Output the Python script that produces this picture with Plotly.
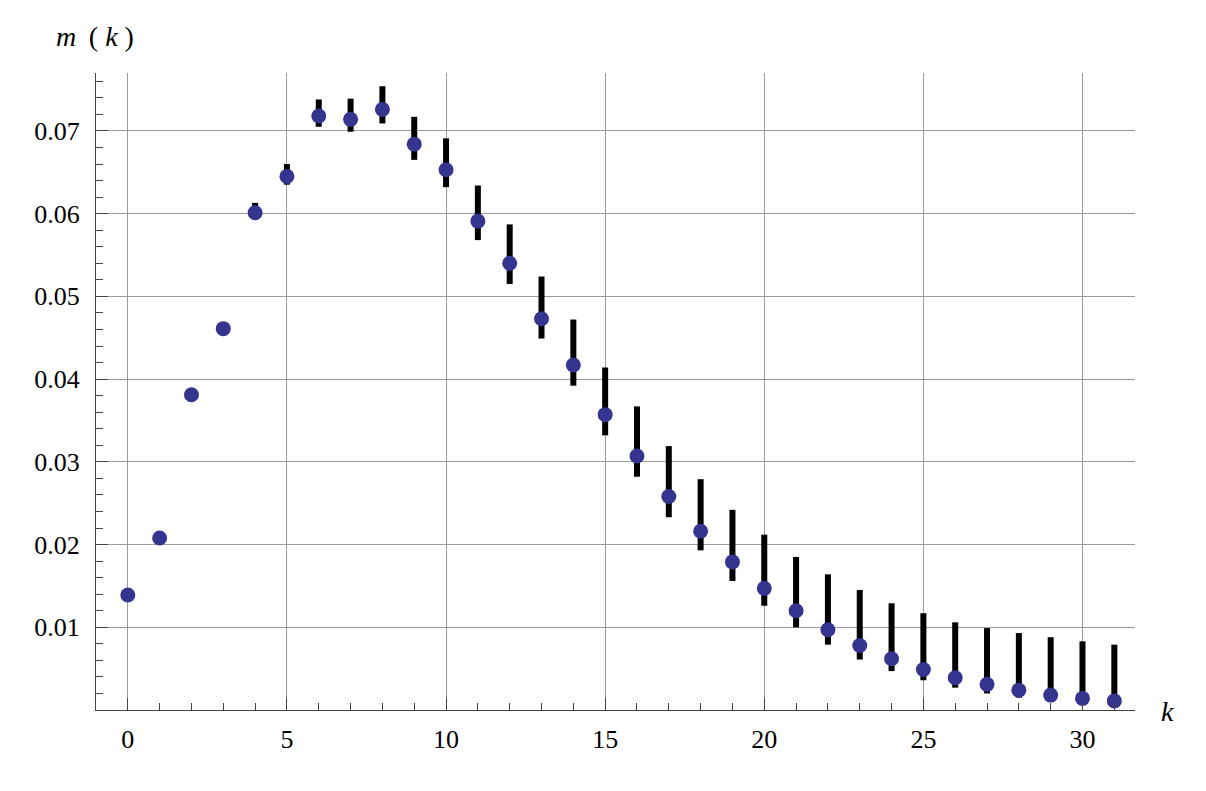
import plotly.graph_objects as go

# k values and estimated m(k) with lower / upper bounds
k = list(range(32))
m = [0.0139, 0.0208, 0.0381, 0.0461, 0.0601, 0.0645, 0.0718, 0.0714,
     0.0726, 0.0684, 0.0653, 0.0591, 0.0540, 0.0473, 0.0417, 0.0357,
     0.0307, 0.0258, 0.0216, 0.0179, 0.0147, 0.0120, 0.0097, 0.0078,
     0.0062, 0.0049, 0.0039, 0.0031, 0.0024, 0.0018, 0.0014, 0.0011]
m_hi = [0.0141, 0.0210, 0.0383, 0.0463, 0.0613, 0.0660, 0.0738, 0.0739,
        0.0754, 0.0717, 0.0691, 0.0634, 0.0587, 0.0524, 0.0472, 0.0414,
        0.0367, 0.0319, 0.0279, 0.0242, 0.0212, 0.0185, 0.0164, 0.0145,
        0.0129, 0.0117, 0.0106, 0.0099, 0.0093, 0.0088, 0.0083, 0.0079]
m_lo = [0.0137, 0.0206, 0.0379, 0.0459, 0.0597, 0.0635, 0.0705, 0.0699,
        0.0709, 0.0665, 0.0632, 0.0568, 0.0515, 0.0449, 0.0392, 0.0332,
        0.0282, 0.0233, 0.0193, 0.0156, 0.0126, 0.0100, 0.0079, 0.0061,
        0.0047, 0.0036, 0.0027, 0.0020, 0.0015, 0.0012, 0.0009, 0.0007]

x_ticks = [0, 5, 10, 15, 20, 25, 30]
y_ticks = [0.01, 0.02, 0.03, 0.04, 0.05, 0.06, 0.07]

err_plus = [h - v for h, v in zip(m_hi, m)]
err_minus = [v - l for v, l in zip(m, m_lo)]

fig = go.Figure(go.Scatter(
    x=k, y=m, mode='markers',
    marker=dict(size=15, color='#35358f', line=dict(width=0)),
    error_y=dict(type='data', symmetric=False, array=err_plus, arrayminus=err_minus,
                 color='black', thickness=6, width=0),
))

font = dict(family='Liberation Serif, Times New Roman, serif', size=26, color='black')
axis_common = dict(
    showline=True, linecolor='#444', linewidth=1,
    showgrid=True, gridcolor='#9a9a9a', gridwidth=1,
    ticks='inside', ticklen=12, tickcolor='#444', tickwidth=1,
    tickfont=font,
)

fig.update_xaxes(
    range=[-1, 31.65], tickmode='array', tickvals=x_ticks,
    zeroline=True, zerolinecolor='#9a9a9a', zerolinewidth=1,
    minor=dict(tickmode='linear', tick0=0, dtick=1, ticks='inside', ticklen=7,
               tickcolor='#444', showgrid=False),
    ticklabelstandoff=6,
    **axis_common,
)
fig.update_yaxes(
    range=[0, 0.077], tickmode='array', tickvals=y_ticks, tickformat='.2f',
    zeroline=False,
    minor=dict(tickmode='linear', tick0=0, dtick=0.002, ticks='inside', ticklen=7,
               tickcolor='#444', showgrid=False),
    ticklabelstandoff=10,
    **axis_common,
)

fig.add_annotation(text='<i>m</i> \u2009( <i>k</i> )', xref='paper', yref='paper',
                   x=-0.04, y=1.058, xanchor='left', yanchor='middle',
                   showarrow=False, font=dict(family=font['family'], size=28, color='black'))
fig.add_annotation(text='<i>k</i>', xref='paper', yref='paper',
                   x=1.031, y=-0.003, xanchor='center', yanchor='middle',
                   showarrow=False, font=dict(family=font['family'], size=28, color='black'))

# page body adds an 8px offset, so margins are shifted to keep the plot area in place
fig.update_layout(
    width=1206, height=791,
    margin=dict(l=88, r=79, t=65, b=89),
    plot_bgcolor='white', paper_bgcolor='white',
    showlegend=False,
)

fig.write_html("out.html")
